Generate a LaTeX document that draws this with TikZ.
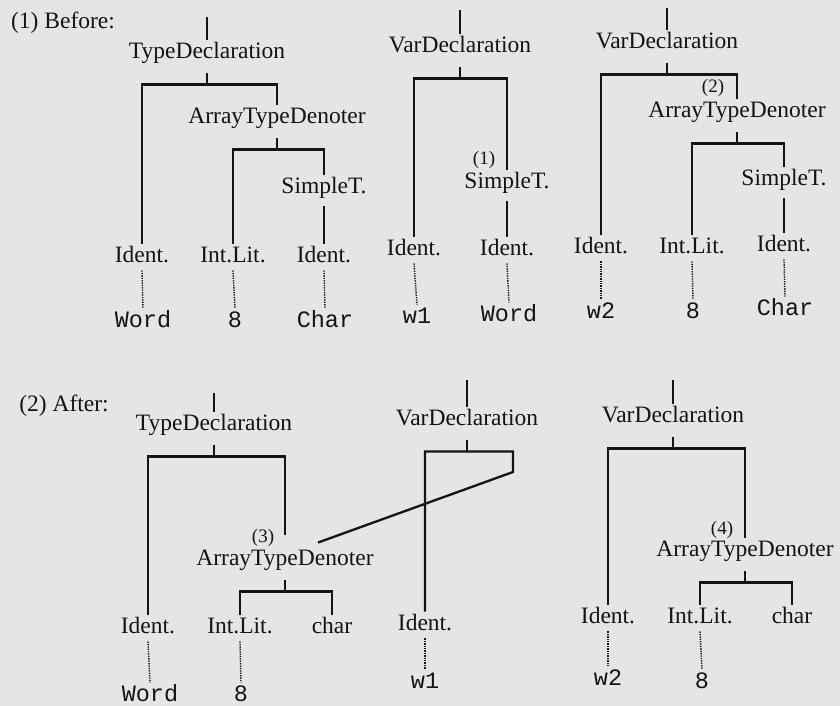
\documentclass[tikz,border=0pt]{standalone}
\usepackage{fontspec}
\setmainfont{Liberation Serif}
\setmonofont{Liberation Mono}
\definecolor{paper}{RGB}{229,229,227}
\definecolor{ink}{RGB}{20,20,20}
\begin{document}
\begin{tikzpicture}[x=1pt,y=-1pt]
  \tikzset{tn/.style={font=\fontsize{23.5}{28}\selectfont,text=ink,inner sep=2pt,text height=16.5pt,text depth=6pt},
    lf/.style={tn,font=\fontsize{23.5}{28}\selectfont\ttfamily},
    nb/.style={font=\fontsize{19}{22}\selectfont,text=ink,inner sep=1pt},
    br/.style={draw=ink,line width=2.3pt},
    dl/.style={draw=ink,line width=1.4pt,dash pattern=on 1.3pt off 1.1pt}}
  \fill[paper] (0,0) rectangle (840,706);
  \useasboundingbox (0,0) rectangle (840,706);
  \node[tn] (hb) at (63,23) {(1) Before:};
  \node[tn] (ha) at (64,406) {(2) After:};
  % before: type declaration
  \coordinate (r1) at (207,17);
  \node[tn] (td1) at (207,53) {TypeDeclaration};
  \node[tn] (atd1) at (277,118) {ArrayTypeDenoter};
  \node[tn] (st1) at (324,188) {SimpleT.};
  \node[tn] (i1a) at (142,257) {Ident.};
  \node[tn] (l1) at (233,257) {Int.Lit.};
  \node[tn] (i1b) at (324,257) {Ident.};
  \node[lf] (w1a) at (143,322) {Word};
  \node[lf] (e1) at (235,322) {8};
  \node[lf] (c1) at (325,322) {Char};
  \draw[br] (r1) -- (td1.north);
  \draw[br] ([yshift=-7pt]td1.south) -- ++(0,11) coordinate (td1-b);
  \draw[br] (i1a.north) |- (td1-b) -| (atd1.north);
  \draw[br] ([yshift=-7pt]atd1.south) -- ++(0,11) coordinate (atd1-b);
  \draw[br] (l1.north) |- (atd1-b) -| (st1.north);
  \draw[br] ([yshift=-5pt]st1.south) -- (i1b.north);
  \draw[dl] (i1a.south) -- (w1a.north);
  \draw[dl] (l1.south) -- (e1.north);
  \draw[dl] (i1b.south) -- (c1.north);
  % before: first var declaration
  \coordinate (r2) at (460,10);
  \node[tn] (vd1) at (460,47) {VarDeclaration};
  \node[tn] (st2) at (507,183) {SimpleT.};
  \node[nb] (n1) at (484,160) {(1)};
  \node[tn] (i2a) at (414,250) {Ident.};
  \node[tn] (i2b) at (507,250) {Ident.};
  \node[lf] (w2a) at (417,318) {w1};
  \node[lf] (wd2) at (509,316) {Word};
  \draw[br] (r2) -- (vd1.north);
  \draw[br] ([yshift=-7pt]vd1.south) -- ++(0,11) coordinate (vd1-b);
  \draw[br] (i2a.north) |- (vd1-b) -| (st2.north);
  \draw[br] ([yshift=-5pt]st2.south) -- (i2b.north);
  \draw[dl] (i2a.south) -- (w2a.north);
  \draw[dl] (i2b.south) -- (wd2.north);
  % before: second var declaration
  \coordinate (r3) at (667,8);
  \node[tn] (vd2) at (667,43) {VarDeclaration};
  \node[tn] (atd2) at (737,112) {ArrayTypeDenoter};
  \node[nb] (n2) at (713,88) {(2)};
  \node[tn] (st3) at (784,180) {SimpleT.};
  \node[tn] (i3a) at (601,248) {Ident.};
  \node[tn] (l3) at (692,248) {Int.Lit.};
  \node[tn] (i3b) at (784,246) {Ident.};
  \node[lf] (w3) at (601,313) {w2};
  \node[lf] (e3) at (693,313) {8};
  \node[lf] (c3) at (785,310) {Char};
  \draw[br] (r3) -- (vd2.north);
  \draw[br] ([yshift=-7pt]vd2.south) -- ++(0,11) coordinate (vd2-b);
  \draw[br] (i3a.north) |- (vd2-b) -| (atd2.north);
  \draw[br] ([yshift=-7pt]atd2.south) -- ++(0,11) coordinate (atd2-b);
  \draw[br] (l3.north) |- (atd2-b) -| (st3.north);
  \draw[br] ([yshift=-5pt]st3.south) -- (i3b.north);
  \draw[dl] (i3a.south) -- (w3.north);
  \draw[dl] (l3.south) -- (e3.north);
  \draw[dl] (i3b.south) -- (c3.north);
  % after: type declaration
  \coordinate (r4) at (214,393);
  \node[tn] (td2) at (214,425) {TypeDeclaration};
  \node[tn] (atd3) at (285,560) {ArrayTypeDenoter};
  \node[nb] (n3) at (263,538) {(3)};
  \node[tn] (i4) at (148,628) {Ident.};
  \node[tn] (l4) at (240,628) {Int.Lit.};
  \node[tn] (ch4) at (332,628) {char};
  \node[lf] (w4) at (150,696) {Word};
  \node[lf] (e4) at (241,696) {8};
  \draw[br] (r4) -- (td2.north);
  \draw[br] ([yshift=-7pt]td2.south) -- ++(0,11) coordinate (td2-b);
  \draw[br] (i4.north) |- (td2-b) -| ([yshift=12pt]atd3.north);
  \draw[br] ([yshift=-7pt]atd3.south) -- ++(0,11) coordinate (atd3-b);
  \draw[br] (l4.north) |- (atd3-b) -| (ch4.north);
  \draw[dl] (i4.south) -- (w4.north);
  \draw[dl] (l4.south) -- (e4.north);
  % after: first var declaration, shares the array type
  \coordinate (r5) at (467,380);
  \node[tn] (vd3) at (467,420) {VarDeclaration};
  \node[tn] (i5) at (425,625) {Ident.};
  \node[lf] (w5) at (425,683) {w1};
  \coordinate (vd3-r) at (513,472);
  \draw[br] (r5) -- (vd3.north);
  \draw[br] ([yshift=-7pt]vd3.south) -- ++(0,11) coordinate (vd3-b);
  \draw[br] (i5.north) |- (vd3-b) -| (vd3-r) -- ([xshift=33pt,yshift=4pt]atd3.north);
  \draw[dl] (i5.south) -- (w5.north);
  % after: second var declaration
  \coordinate (r6) at (673,380);
  \node[tn] (vd4) at (673,417) {VarDeclaration};
  \node[tn] (atd4) at (745,551) {ArrayTypeDenoter};
  \node[nb] (n4) at (722,530) {(4)};
  \node[tn] (i6) at (608,618) {Ident.};
  \node[tn] (l6) at (700,618) {Int.Lit.};
  \node[tn] (ch6) at (792,618) {char};
  \node[lf] (w6) at (608,680) {w2};
  \node[lf] (e6) at (702,683) {8};
  \draw[br] (r6) -- (vd4.north);
  \draw[br] ([yshift=-7pt]vd4.south) -- ++(0,11) coordinate (vd4-b);
  \draw[br] (i6.north) |- (vd4-b) -| (atd4.north);
  \draw[br] ([yshift=-7pt]atd4.south) -- ++(0,11) coordinate (atd4-b);
  \draw[br] (l6.north) |- (atd4-b) -| (ch6.north);
  \draw[dl] (i6.south) -- (w6.north);
  \draw[dl] (l6.south) -- (e6.north);
\end{tikzpicture}
\end{document}
